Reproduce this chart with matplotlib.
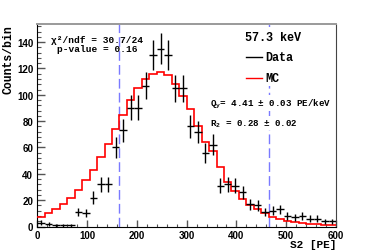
import numpy as np
import matplotlib
matplotlib.use("Agg")
import matplotlib.pyplot as plt
from matplotlib.ticker import MultipleLocator
from matplotlib.patches import Rectangle

# ---- data ----
bin_width = 15
bin_edges = np.arange(0, 601, bin_width)
data_counts = [3, 2, 1, 1, 1, 11, 10, 22, 32, 32, 60, 73, 90, 90, 107, 130, 135, 130,
               105, 105, 76, 72, 56, 62, 31, 32, 31, 26, 17, 16, 11, 12, 13, 8, 7, 8,
               6, 6, 4, 4]
mc_counts = [7, 10, 13, 17, 22, 28, 35, 43, 53, 63, 74, 85, 96, 105, 112, 116, 117,
             115, 108, 99, 89, 76, 64, 57, 45, 34, 27, 21, 16, 13, 10, 7.5, 5.5, 4.5,
             3.7, 2.7, 2.1, 1.6, 1.1, 0.9]
cut_lines = [165, 466]
energy_label = "57.3 keV"
chi2_text = "χ²/ndf = 30.7/24"
pval_text = "p-value = 0.16"
qy_text = "Q$_{\\mathregular{y}}$= 4.41 ± 0.03 PE/keV"
r2_text = "R$_{\\mathregular{2}}$ = 0.28 ± 0.02"

W, H = 374, 253
fig = plt.figure(figsize=(W / 100, H / 100), dpi=100)
ax = fig.add_axes([37.3 / W, 1 - 227.5 / H, (336 - 37.3) / W, (227.5 - 24.7) / H])

centers = (bin_edges[:-1] + bin_edges[1:]) / 2
dc = np.array(data_counts, dtype=float)

ax.stairs(mc_counts, bin_edges, color="red", lw=1.2, baseline=None, zorder=3)
ax.errorbar(centers, dc, xerr=bin_width / 2, yerr=np.sqrt(dc), fmt="none",
            ecolor="black", elinewidth=1.0, capsize=0, zorder=4)
for xl in cut_lines:
    ax.axvline(xl, color="#7a7aff", lw=1.0, dashes=(7, 3), zorder=2)

ax.set_xlim(0, 600)
ax.set_ylim(0, 154)

mono = "Liberation Mono"
sans = "Liberation Sans"

ax.xaxis.set_major_locator(MultipleLocator(100))
ax.xaxis.set_minor_locator(MultipleLocator(20))
ax.yaxis.set_major_locator(MultipleLocator(20))
ax.yaxis.set_minor_locator(MultipleLocator(4))
ax.tick_params(axis="both", which="both", direction="in", top=False, right=False,
               color="#555555")
ax.tick_params(axis="y", which="major", length=6, width=1.0)
ax.tick_params(axis="y", which="minor", length=3, width=0.8)
ax.tick_params(axis="x", which="major", length=5, width=1.0)
ax.tick_params(axis="x", which="minor", length=2.5, width=0.8)
ax.tick_params(axis="y", pad=3)
ax.tick_params(axis="x", pad=2.5)
for lab in ax.get_xticklabels() + ax.get_yticklabels():
    lab.set_fontfamily(sans)
    lab.set_fontweight("bold")
    lab.set_fontsize(7)

ax.spines["top"].set_color("#9a9a9a")
ax.spines["top"].set_linewidth(1.4)
ax.spines["right"].set_color("#444444")
ax.spines["right"].set_linewidth(0.8)
ax.spines["left"].set_color("black")
ax.spines["left"].set_linewidth(0.8)
ax.spines["bottom"].set_color("black")
ax.spines["bottom"].set_linewidth(0.8)

# axis titles
fig.text(9 / W, 1 - 25 / H, "Counts/bin", rotation=90, ha="center", va="top",
         family=mono, fontweight="bold", fontsize=8.3)
fig.text(336 / W, 1 - 245 / H, "S2 [PE]", ha="right", va="center",
         family=mono, fontweight="bold", fontsize=8.0)

# fit info
fig.text(97 / W, 1 - 41 / H, chi2_text, ha="center", va="center",
         family=mono, fontweight="bold", fontsize=6.8)
fig.text(97 / W, 1 - 50 / H, pval_text, ha="center", va="center",
         family=mono, fontweight="bold", fontsize=6.8)

# legend box (white, covers dashed line)
ax.add_patch(Rectangle((240 / W, 1 - 87 / H), (334 - 240) / W, (87 - 28) / H,
                       transform=fig.transFigure, facecolor="white",
                       edgecolor="none", zorder=5))
fig.text(273 / W, 1 - 38 / H, energy_label, ha="center", va="center",
         family=mono, fontweight="bold", fontsize=8.5, zorder=6)
fig.add_artist(plt.Line2D([246 / W, 262 / W], [1 - 58 / H, 1 - 58 / H],
                          color="black", lw=1.0, zorder=6))
fig.text(265 / W, 1 - 58 / H, "Data", ha="left", va="center",
         family=mono, fontweight="bold", fontsize=8.5, zorder=6)
fig.add_artist(plt.Line2D([246 / W, 262 / W], [1 - 79 / H, 1 - 79 / H],
                          color="red", lw=1.0, zorder=6))
fig.text(265 / W, 1 - 79 / H, "MC", ha="left", va="center",
         family=mono, fontweight="bold", fontsize=8.5, zorder=6)

box = dict(facecolor="white", edgecolor="none", pad=1.0)
ax.text(210 / W, 1 - 104 / H, qy_text, transform=fig.transFigure, ha="left",
        va="center", family=mono, fontweight="bold", fontsize=6.6, bbox=box,
        zorder=6)
ax.text(210 / W, 1 - 124 / H, r2_text, transform=fig.transFigure, ha="left",
        va="center", family=mono, fontweight="bold", fontsize=6.6, bbox=box,
        zorder=6)

fig.savefig("out.png", dpi=100)
